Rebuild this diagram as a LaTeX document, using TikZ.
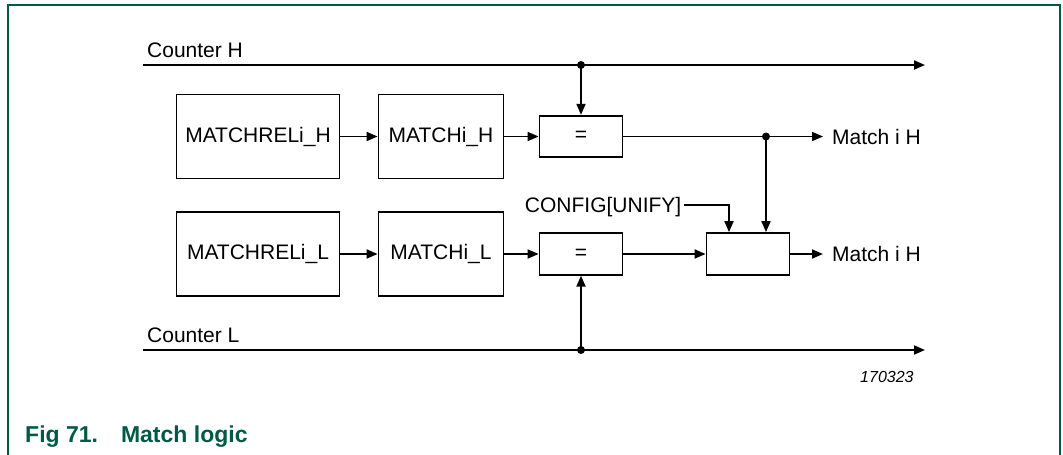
\documentclass[tikz,border=0pt]{standalone}
\usepackage{fontspec}
\setmainfont{Liberation Sans}
\usetikzlibrary{arrows.meta}
\definecolor{nxpgreen}{HTML}{005A46}
\begin{document}
\begin{tikzpicture}[x=1pt,y=-1pt,
  box/.style={draw, line width=1.8pt, inner sep=0pt, font=\fontsize{21}{25}\selectfont},
  wire/.style={line width=1.8pt},
  arr/.style={wire, -{Triangle[length=11pt,width=9pt]}},
  dotc/.style={circle, fill, inner sep=0pt, minimum size=8pt},
  lbl/.style={inner sep=0pt, font=\fontsize{21}{25}\selectfont}]
\useasboundingbox (0,0) rectangle (1063,455);
\draw[nxpgreen, line width=1.5pt] (8,455) -- (8,5) -- (1060,5) -- (1060,455);

% boxes
\node[box, minimum width=163pt, minimum height=84pt] (relH) at (258,136.5) {MATCHRELi\_H};
\node[box, minimum width=125pt, minimum height=84pt] (mH) at (441,136.5) {MATCHi\_H};
\node[box, minimum width=83pt, minimum height=41.5pt] (eqH) at (581,136.5) {=};
\node[box, minimum width=163pt, minimum height=84pt] (relL) at (258,254) {MATCHRELi\_L};
\node[box, minimum width=125pt, minimum height=84pt] (mL) at (441,254) {MATCHi\_L};
\node[box, minimum width=83pt, minimum height=41.5pt] (eqL) at (581,254) {=};
\node[box, minimum width=83pt, minimum height=42pt] (comb) at (748,254) {};

% labels
\node[lbl, anchor=base west] (lch) at (147,57) {Counter H};
\node[lbl, anchor=base west] (lcl) at (147,342) {Counter L};
\node[lbl, anchor=base west] (outH) at (832,144) {Match i H};
\node[lbl, anchor=base west] (outL) at (832,261.5) {Match i H};
\node[lbl, anchor=base east] (cfg) at (681.5,212.5) {CONFIG[UNIFY]};
\node[inner sep=0pt, anchor=base west, font=\fontsize{16}{19}\selectfont\itshape] (code) at (860,382.5) {170323};
\node[inner sep=0pt, anchor=base west, text=nxpgreen, font=\fontsize{23}{27}\selectfont\bfseries] (cap) at (25,442.5) {Fig 71.\hspace{23pt}Match logic};

% coordinates
\coordinate (chS) at (143,65);
\coordinate (chE) at (925,65);
\coordinate (clS) at (143,350);
\coordinate (clE) at (925,350);
\coordinate (chJ) at (581,65);
\coordinate (clJ) at (581,350);
\coordinate (mhJ) at (766,136.5);
\coordinate (mhE) at (823,136.5);
\coordinate (mlE) at (823,254);
\coordinate (cfgT) at (729,205);

% counters
\draw[arr] (chS) -- (chE);
\draw[arr] (clS) -- (clE);
\node[dotc] (dH) at (chJ) {};
\node[dotc] (dL) at (clJ) {};
\draw[arr] (dH.center) -- (eqH.north);
\draw[arr] (dL.center) -- (eqL.south);

% data paths
\draw[arr] (relH) -- (mH);
\draw[arr] (mH) -- (eqH);
\draw[arr] (relL) -- (mL);
\draw[arr] (mL) -- (eqL);
\draw[arr] (eqL) -- (comb);

% match H
\node[dotc] (dM) at (mhJ) {};
\draw[wire] (eqH.east) -- (dM.center);
\draw[arr] (dM.center) -- (mhE);
\draw[arr] (dM.center) -- (dM.center |- comb.north);
\draw[arr] (comb.east) -- (mlE);

% config
\draw[arr] (cfgT -| cfg.east) ++(2,0) -- (cfgT) -- (cfgT |- comb.north);
\end{tikzpicture}
\end{document}
